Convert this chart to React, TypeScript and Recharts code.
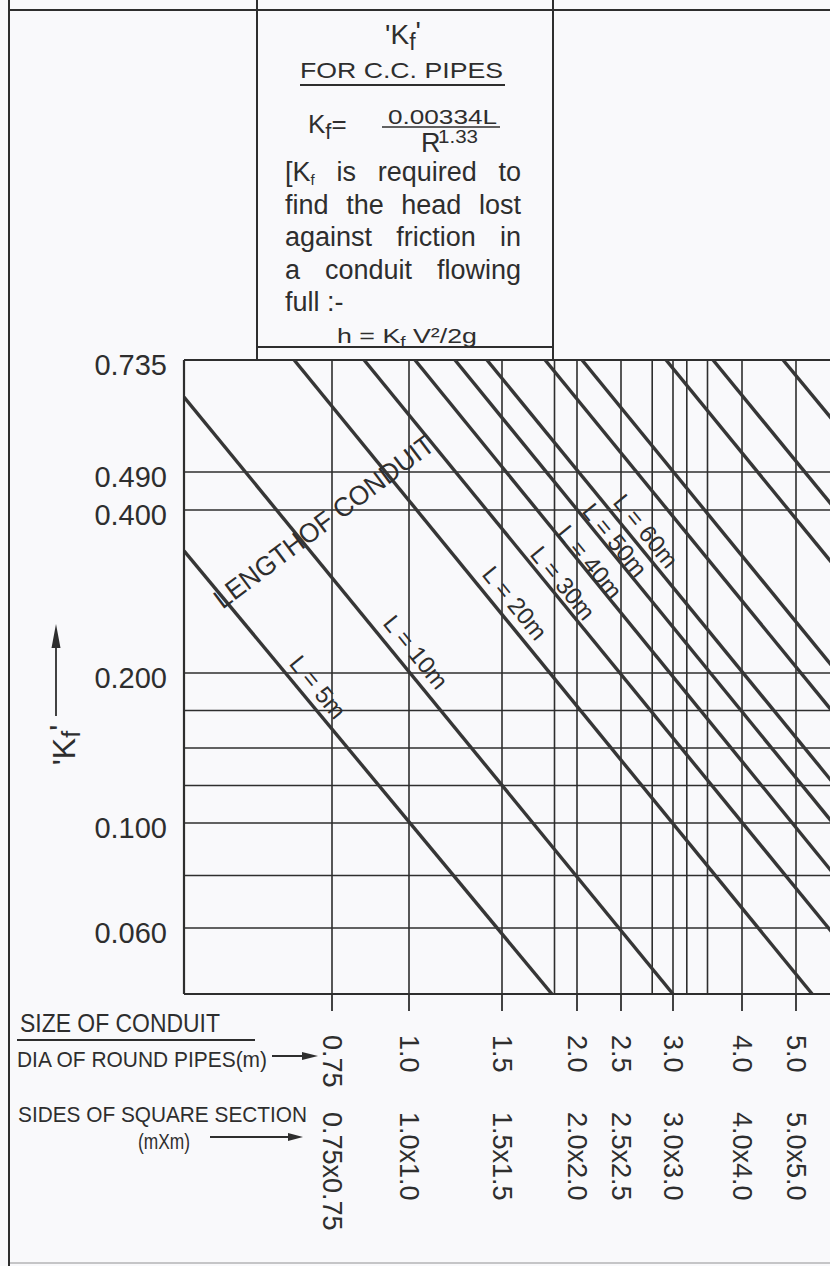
import { LineChart, Line, XAxis, YAxis, ReferenceLine } from 'recharts';

const FONT = "'Liberation Sans', Arial, Helvetica, sans-serif";
const INK = '#2e2e2e';
const PAPER = '#f9f9fb';

// size of conduit (x axis)
const DIA_TICKS = [0.75, 1.0, 1.5, 2.0, 2.5, 3.0, 4.0, 5.0];
const DIA_LABELS = ['0.75', '1.0', '1.5', '2.0', '2.5', '3.0', '4.0', '5.0'];
const SQUARE_LABELS = ['0.75x0.75', '1.0x1.0', '1.5x1.5', '2.0x2.0', '2.5x2.5', '3.0x3.0', '4.0x4.0', '5.0x5.0'];
const DIA_GRID = [0.75, 1.0, 1.5, 1.85, 2.0, 2.5, 2.8, 3.0, 3.2, 3.5, 4.0, 5.0];

// 'Kf' (y axis)
const KF_TICKS = [0.735, 0.49, 0.4, 0.2, 0.1, 0.06];
const KF_LABELS = ['0.735', '0.490', '0.400', '0.200', '0.100', '0.060'];
const KF_GRID = [0.49, 0.4, 0.2, 0.175, 0.15, 0.125, 0.1, 0.08, 0.06];

// length-of-conduit lines, each read as a start and an end point (dia, Kf)
const LINE_NAMES = ['L5', 'L10', 'L20', 'L30', 'L40', 'L50', 'L60', 'La', 'Lb', 'Lc', 'Ld', 'Le'];
const START_DIA = [0.5, 0.5, 0.686, 0.854, 1.032, 1.247, 1.419, 1.787, 2.057, 2.933, 3.58, 4.76];
const START_KF = [0.35, 0.654, 0.735, 0.735, 0.735, 0.735, 0.735, 0.735, 0.735, 0.735, 0.735, 0.735];
const END_DIA = [1.833, 3.0, 5.3, 6.0, 6.0, 6.0, 6.0, 6.0, 6.0, 6.0, 6.0, 6.0];
const END_KF = [0.035, 0.035, 0.035, 0.05, 0.073, 0.092, 0.113, 0.16, 0.19, 0.308, 0.379, 0.558];

// the printed chart's axes are hand drawn and unevenly spaced, so each axis is
// a piecewise scale between its printed graduations
const DIA_SCALE = [0.5, 0.75, 1.0, 1.5, 2.0, 2.5, 3.0, 4.0, 5.0, 6.0];
const DIA_SCALE_POS = [0, 148, 225, 318, 393, 437, 489, 558, 612, 666];
const KF_SCALE = [0.035, 0.06, 0.1, 0.2, 0.4, 0.49, 0.735];
const KF_SCALE_POS = [0, 66, 171, 321, 484, 522, 634];

function piecewise(v: number, stops: number[], pos: number[]) {
  let i = 0;
  while (i < stops.length - 2 && v > stops[i + 1]) i++;
  const t = (v - stops[i]) / (stops[i + 1] - stops[i]);
  return pos[i] + t * (pos[i + 1] - pos[i]);
}
const sx = (d: number) => piecewise(d, DIA_SCALE, DIA_SCALE_POS);
const sy = (k: number) => piecewise(k, KF_SCALE, KF_SCALE_POS);

const series = LINE_NAMES.map((name, i) => ({
  name,
  points: [
    { xp: sx(START_DIA[i]), yp: sy(START_KF[i]) },
    { xp: sx(END_DIA[i]), yp: sy(END_KF[i]) },
  ],
}));

const DiaTick = (props: any) => {
  const { x, payload } = props;
  const i = DIA_TICKS.findIndex((d) => Math.abs(sx(d) - payload.value) < 0.01);
  if (i < 0) return null;
  return (
    <g fontFamily={FONT} fontSize={27} fill={INK}>
      <text x={x} y={1035} transform={`rotate(90 ${x} 1035)`} dominantBaseline="central">
        {DIA_LABELS[i]}
      </text>
      <text x={x} y={1112} transform={`rotate(90 ${x} 1112)`} dominantBaseline="central">
        {SQUARE_LABELS[i]}
      </text>
    </g>
  );
};

const KfTick = (props: any) => {
  const { y, payload } = props;
  const i = KF_TICKS.findIndex((k) => Math.abs(sy(k) - payload.value) < 0.01);
  if (i < 0) return null;
  return (
    <text x={167} y={y + 5} textAnchor="end" dominantBaseline="central" fontFamily={FONT} fontSize={29} fill={INK}>
      {KF_LABELS[i]}
    </text>
  );
};

const lengthLabels = [
  { text: 'L = 5m', x: 318, y: 687 },
  { text: 'L = 10m', x: 416, y: 652 },
  { text: 'L = 20m', x: 515, y: 603 },
  { text: 'L = 30m', x: 563, y: 583 },
  { text: 'L = 40m', x: 590, y: 562 },
  { text: 'L = 50m', x: 615, y: 540 },
  { text: 'L = 60m', x: 646, y: 531 },
];

const justified = { textAlign: 'justify', textAlignLast: 'justify' } as const;

export default function App() {
  return (
    <div style={{ position: 'relative', width: 830, height: 1266, overflow: 'hidden', background: PAPER }}>
      <style>{`body{margin:0;background:${PAPER}}`}</style>

      <div style={{ position: 'absolute', left: 0, top: 0 }}>
        <LineChart width={870} height={1266} margin={{ top: 360, right: 20, bottom: 0, left: 0 }}>
          <XAxis
            type="number"
            dataKey="xp"
            domain={[0, 666]}
            allowDataOverflow
            ticks={DIA_TICKS.map(sx)}
            interval={0}
            height={272}
            tickSize={17}
            tick={<DiaTick />}
            axisLine={{ stroke: INK, strokeWidth: 2.2 }}
            tickLine={{ stroke: INK, strokeWidth: 1.8 }}
          />
          <YAxis
            type="number"
            dataKey="yp"
            domain={[0, 634]}
            allowDataOverflow
            ticks={KF_TICKS.map(sy)}
            interval={0}
            width={184}
            tickLine={false}
            tick={<KfTick />}
            axisLine={{ stroke: INK, strokeWidth: 2.2 }}
          />
          <ReferenceLine y={sy(0.735)} stroke={INK} strokeWidth={2.2} />
          {KF_GRID.map((k) => (
            <ReferenceLine key={`h${k}`} y={sy(k)} stroke={INK} strokeWidth={1.6} />
          ))}
          {DIA_GRID.map((d) => (
            <ReferenceLine key={`v${d}`} x={sx(d)} stroke={INK} strokeWidth={1.6} />
          ))}
          {series.map((s) => (
            <Line
              key={s.name}
              data={s.points}
              dataKey="yp"
              type="linear"
              stroke="#363636"
              strokeWidth={3.4}
              dot={false}
              activeDot={false}
              isAnimationActive={false}
            />
          ))}
        </LineChart>
      </div>

      <svg
        width={830}
        height={1266}
        style={{ position: 'absolute', left: 0, top: 0, pointerEvents: 'none' }}
        fontFamily={FONT}
        fill={INK}
      >
        {/* outer frame */}
        <line x1={9} y1={0} x2={9} y2={1266} stroke={INK} strokeWidth={2} />
        <line x1={9} y1={10} x2={830} y2={10} stroke={INK} strokeWidth={2} />
        <line x1={9} y1={1263} x2={830} y2={1263} stroke={INK} strokeWidth={1.2} opacity={0.5} />

        {/* title box */}
        <line x1={257} y1={0} x2={257} y2={360} stroke={INK} strokeWidth={2} />
        <line x1={553} y1={0} x2={553} y2={360} stroke={INK} strokeWidth={2} />
        <line x1={257} y1={347} x2={553} y2={347} stroke={INK} strokeWidth={2} />

        <text x={403} y={44} textAnchor="middle" fontSize={28}>
          'K<tspan fontSize={23} dy={6}>f</tspan>
          <tspan dy={-9}>'</tspan>
        </text>
        <text x={300} y={78} fontSize={22} textLength={203} lengthAdjust="spacingAndGlyphs">
          FOR C.C. PIPES
        </text>
        <line x1={300} y1={85} x2={505} y2={85} stroke={INK} strokeWidth={2} />

        <text x={308} y={133} fontSize={26}>
          K<tspan fontSize={22} dy={6}>f</tspan>
          <tspan dy={-6}>=</tspan>
        </text>
        <text x={388} y={124} fontSize={20} textLength={109} lengthAdjust="spacingAndGlyphs">
          0.00334L
        </text>
        <line x1={382} y1={127} x2={500} y2={127} stroke={INK} strokeWidth={1.6} />
        <text x={421} y={152} fontSize={27}>R</text>
        <text x={438} y={143} fontSize={18} textLength={40} lengthAdjust="spacingAndGlyphs">
          1.33
        </text>

        <text x={337} y={343} fontSize={21} textLength={140} lengthAdjust="spacingAndGlyphs">
          h = K<tspan fontSize={15} dy={4}>f</tspan>
          <tspan dy={-4}> V²/2g</tspan>
        </text>

        {/* y axis title */}
        <line x1={56} y1={716} x2={56} y2={640} stroke={INK} strokeWidth={1.8} />
        <polygon points="56,624 51.5,648 60.5,648" fill={INK} />
        <text x={64} y={745} textAnchor="middle" dominantBaseline="central" fontSize={32} transform="rotate(-90 64 745)">
          'K<tspan fontSize={25} dy={7}>f</tspan>
          <tspan dy={-10}>'</tspan>
        </text>

        {/* size of conduit captions */}
        <text x={20} y={1032} fontSize={25} textLength={200} lengthAdjust="spacingAndGlyphs">
          SIZE OF CONDUIT
        </text>
        <line x1={17} y1={1040} x2={255} y2={1040} stroke={INK} strokeWidth={2} />
        <text x={17} y={1067} fontSize={22} textLength={250} lengthAdjust="spacingAndGlyphs">
          DIA OF ROUND PIPES(m)
        </text>
        <line x1={272} y1={1056} x2={306} y2={1056} stroke={INK} strokeWidth={2} />
        <polygon points="318,1056 302,1052 302,1060" fill={INK} />
        <text x={18} y={1122} fontSize={22} textLength={289} lengthAdjust="spacingAndGlyphs">
          SIDES OF SQUARE SECTION
        </text>
        <text x={138} y={1149} fontSize={22} textLength={52} lengthAdjust="spacingAndGlyphs">
          (mXm)
        </text>
        <line x1={210} y1={1137} x2={292} y2={1137} stroke={INK} strokeWidth={2} />
        <polygon points="303,1137 288,1133 288,1141" fill={INK} />

        {/* line labels */}
        <text
          x={324}
          y={522}
          textAnchor="middle"
          dominantBaseline="central"
          fontSize={27}
          textLength={268}
          lengthAdjust="spacingAndGlyphs"
          transform="rotate(-37 324 522)"
        >
          LENGTHOF CONDUIT
        </text>
        {lengthLabels.map((l) => (
          <text
            key={l.text}
            x={l.x}
            y={l.y}
            textAnchor="middle"
            dominantBaseline="central"
            fontSize={24}
            transform={`rotate(50.8 ${l.x} ${l.y})`}
          >
            {l.text}
          </text>
        ))}
      </svg>

      <div
        style={{
          position: 'absolute',
          left: 285,
          top: 156,
          width: 236,
          fontFamily: FONT,
          fontSize: 27,
          lineHeight: '32.5px',
          color: INK,
        }}
      >
        <div style={justified}>
          [K<span style={{ fontSize: 15, verticalAlign: '-4px', lineHeight: 0 }}>f</span> is required to
        </div>
        <div style={justified}>find the head lost</div>
        <div style={justified}>against friction in</div>
        <div style={justified}>a conduit flowing</div>
        <div>full :-</div>
      </div>
    </div>
  );
}
